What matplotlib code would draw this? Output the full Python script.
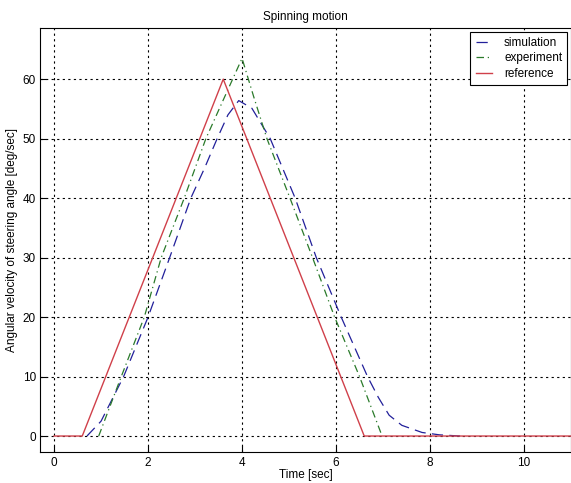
import matplotlib
matplotlib.use('Agg')
import matplotlib.pyplot as plt

plt.rcParams['font.family'] = ['Liberation Sans', 'DejaVu Sans']

# values
sim_t = [0.7, 1.0, 1.48, 2.0, 2.46, 2.91, 3.2, 3.47, 3.7, 3.93, 4.21, 4.6,
         5.13, 5.58, 6.11, 6.67, 6.9, 7.13, 7.4, 7.83, 8.2, 8.64]
sim_w = [0, 2.5, 10, 20, 30, 40, 45, 50, 54, 56.4, 55.1, 50,
         40, 30, 20, 10, 6.5, 3.5, 1.8, 0.6, 0.2, 0.0]

exp_t = [0.95, 1.43, 1.92, 2.28, 2.77, 3.23, 3.6, 4.0, 4.25, 4.53, 5.02,
         5.5, 5.97, 6.5, 6.98]
exp_w = [0, 10, 20, 30, 40, 50, 56.5, 63.5, 57, 50, 40, 30, 20, 10, 0]

ref_t = [0, 0.6, 3.6, 6.6, 11]
ref_w = [0, 0, 60, 0, 0]

fig = plt.figure(figsize=(5.71, 4.83), dpi=100)
ax = fig.add_axes([0.07, 0.064, 0.93, 0.878])

ax.plot(sim_t, sim_w, color='#22209a', linestyle=(0, (9, 5)), linewidth=0.9, label='simulation')
ax.plot(exp_t, exp_w, color='#2a7a2a', linestyle=(0, (6, 3, 1, 3)), linewidth=0.9, label='experiment')
ax.plot(ref_t, ref_w, color='#d0404a', linestyle='-', linewidth=1.0, label='reference')

ax.set_xlim(-0.3, 11.0)
ax.set_ylim(-2.7, 68.6)
ax.set_xticks([0, 2, 4, 6, 8, 10])
ax.set_yticks([0, 10, 20, 30, 40, 50, 60])
ax.tick_params(direction='in', labelsize=8.5, length=4, width=0.8)
ax.tick_params(axis='y', pad=3)
ax.grid(True, color='black', linestyle=(0, (2, 3)), linewidth=0.8)

ax.set_title('Spinning motion', fontsize=8.5, pad=6)
ax.set_xlabel('Time [sec]', fontsize=8.5, labelpad=0)
ax.set_ylabel('Angular velocity of steering angle [deg/sec]', fontsize=8.5, labelpad=3)

leg = ax.legend(loc='upper right', fontsize=8.5, fancybox=False, framealpha=1,
                edgecolor='black', handlelength=1.4, handletextpad=1.0,
                borderpad=0.45, labelspacing=0.3, borderaxespad=0.3)
leg.get_frame().set_linewidth(0.8)

for s in ax.spines.values():
    s.set_linewidth(0.8)

fig.savefig('out.png', dpi=100)
